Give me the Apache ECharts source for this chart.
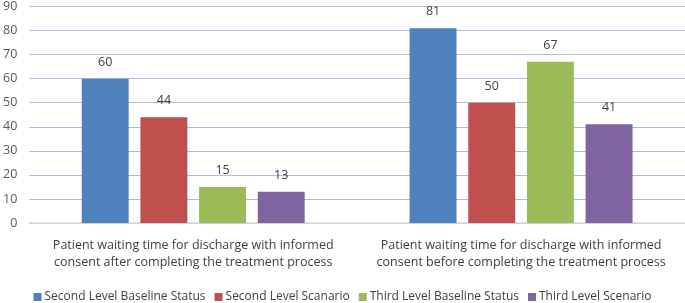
<!DOCTYPE html>
<html>
<head>
<meta charset="utf-8">
<script src="https://cdn.jsdelivr.net/npm/echarts@6/dist/echarts.min.js"></script>
<style>
  html, body { margin: 0; padding: 0; background: #fff; }
  #chart { width: 685px; height: 303px; }
</style>
</head>
<body>
<div id="chart"></div>
<script>
const categories = [
  'Patient waiting time for discharge with informed\nconsent after completing the treatment process',
  'Patient waiting time for discharge with informed\nconsent before completing the treatment process'
]
const secondBaseline = [60, 81]
const secondScenario = [44, 50]
const thirdBaseline = [15, 67]
const thirdScenario = [13, 41]
const seriesNames = ['Second Level Baseline Status', 'Second Level Scanario', 'Third Level Baseline Status', 'Third Level Scenario']
const colors = ['#4f81bd', '#c0504d', '#9bbb59', '#8064a2']

const chart = echarts.init(document.getElementById('chart'))

function bar(name, data, color) {
  return {
    name,
    type: 'bar',
    data,
    barGap: '25%',
    barCategoryGap: '32%',
    itemStyle: { color },
    label: { show: true, position: 'top', distance: 10, color: '#404040', fontSize: 12.5, fontFamily: 'Open Sans' },
  }
}

chart.setOption({
  animation: false,
  textStyle: { fontFamily: 'Open Sans' },
  grid: { left: 26, right: 0, top: 5, bottom: 80 },
  legend: {
    top: 286,
    left: 'center',
    itemWidth: 8,
    itemHeight: 8,
    itemGap: 9,
    icon: 'rect',
    textStyle: { color: '#404040', fontSize: 12, padding: [0, 0, 0, -2] },
    data: seriesNames,
  },
  xAxis: {
    type: 'category',
    data: categories,
    axisLine: { lineStyle: { color: '#d9d9d9', width: 1.5 } },
    axisTick: { show: false },
    axisLabel: { interval: 0, color: '#404040', fontSize: 12.5, lineHeight: 17, margin: 14 },
  },
  yAxis: {
    type: 'value',
    min: 0,
    max: 90,
    interval: 10,
    axisLine: { show: false },
    axisTick: { show: false },
    axisLabel: { color: '#595959', fontSize: 12.5, margin: 12 },
    splitLine: { lineStyle: { color: '#a9c0e0', width: 1 } },
  },
  series: [
    bar(seriesNames[0], secondBaseline, colors[0]),
    bar(seriesNames[1], secondScenario, colors[1]),
    bar(seriesNames[2], thirdBaseline, colors[2]),
    bar(seriesNames[3], thirdScenario, colors[3]),
  ],
})
</script>
</body>
</html>
